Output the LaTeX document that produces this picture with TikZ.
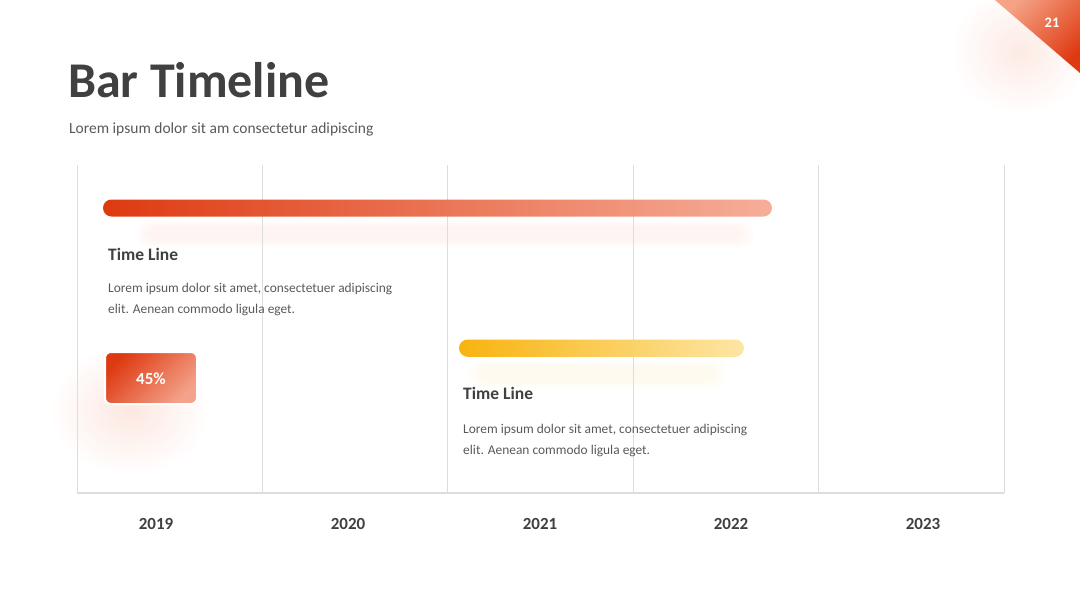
\documentclass[tikz,border=0pt]{standalone}
\usepackage{fontspec}
\setmainfont{Carlito}
\usetikzlibrary{fadings}
\definecolor{inkdark}{HTML}{404040}
\definecolor{inkgray}{HTML}{595959}
\definecolor{gridgray}{HTML}{DDDDDD}
\definecolor{redstart}{HTML}{DE3A11}
\definecolor{redend}{HTML}{F6AE99}
\definecolor{tablight}{HTML}{F5A285}
\definecolor{goldstart}{HTML}{F8B30E}
\definecolor{goldend}{HTML}{FDE6A4}
\definecolor{glowred}{HTML}{F9C4B2}
\definecolor{glowgold}{HTML}{FDE9BE}
\tikzfading[name=softglow, inner color=transparent!0, outer color=transparent!100]
\tikzset{
  gridline/.style={draw=gridgray, line width=1},
  yearlabel/.style={anchor=base, inner sep=0, font=\bfseries\fontsize{17}{20}\selectfont, text=inkdark},
  itemhead/.style={anchor=base west, inner sep=0, font=\bfseries\fontsize{17.5}{21}\selectfont, text=inkdark},
  itembody/.style={anchor=base west, inner sep=0, align=left, font=\fontsize{13.4}{21}\selectfont, text=inkgray},
  glow/.style={fill=#1, path fading=softglow, fit fading=true},
}
\begin{document}
\begin{tikzpicture}[x=1pt, y=-1pt]
\clip (0,0) rectangle (1080,608);
% soft glows
\fill[glow=glowred, opacity=0.35] (950,-15) rectangle (1090,115);
\fill[glow=glowred, opacity=0.4] (50,345) rectangle (210,475);
\foreach \g in {0,3,...,12}
  \fill[glowred, opacity=0.04, rounded corners=12] ({148-\g},{227-\g/2}) rectangle ({742+\g},{241+\g/2});
\foreach \g in {0,3,...,12}
  \fill[glowgold, opacity=0.05, rounded corners=12] ({480-\g},{366-\g/2}) rectangle ({715+\g},{382+\g/2});

% grid
\foreach \x in {77,262,447,633,818,1004}
  \draw[gridline] (\x,165) -- (\x,493);
\draw[gridline, line width=1.5] (77,493) coordinate (axisL) -- (1004,493) coordinate (axisR);
\foreach \yr/\x in {2019/156,2020/348,2021/540,2022/731,2023/923}
  \node[yearlabel] (y\yr) at (\x,529) {\yr};

% heading
\node[anchor=base west, inner sep=0, font=\bfseries\fontsize{50}{56}\selectfont, text=inkdark] (title) at (68,97) {Bar Timeline};
\node[anchor=base west, inner sep=0, font=\fontsize{15.5}{18}\selectfont, text=inkgray] (subtitle) at (69,133) {Lorem ipsum dolor sit am consectetur adipiscing};

% corner tab
\shade[top color=tablight, bottom color=redstart, shading angle=45] (995,0) coordinate (tabL) -- (1080,0) -- (1080,73) coordinate (tabB) -- cycle;
\node[inner sep=0, font=\bfseries\fontsize{14.5}{16}\selectfont, text=white] (pagenum) at (1052,23) {21};

% first bar
\shade[left color=redstart, right color=redend, rounded corners=8.5] (103,199.5) coordinate (barA) rectangle (772,216.5);
\node[itemhead] (headA) at (108,260) {Time Line};
\node[itembody] (bodyA) at (108,313) {Lorem ipsum dolor sit amet, consectetuer adipiscing\\elit. Aenean commodo ligula eget.};

% badge
\shadedraw[top color=redstart, bottom color=redend!90!redstart, shading angle=45, rounded corners=6, draw=white, line width=2] (105,352) rectangle (197,404);
\node[inner sep=0, font=\bfseries\fontsize{17}{20}\selectfont, text=white] (badge) at (151,379) {45\%};

% second bar
\shade[left color=goldstart, right color=goldend, rounded corners=8.7] (459,339.5) coordinate (barB) rectangle (744,356.8);
\node[itemhead] (headB) at (463,399) {Time Line};
\node[itembody] (bodyB) at (463,454) {Lorem ipsum dolor sit amet, consectetuer adipiscing\\elit. Aenean commodo ligula eget.};
\end{tikzpicture}
\end{document}
